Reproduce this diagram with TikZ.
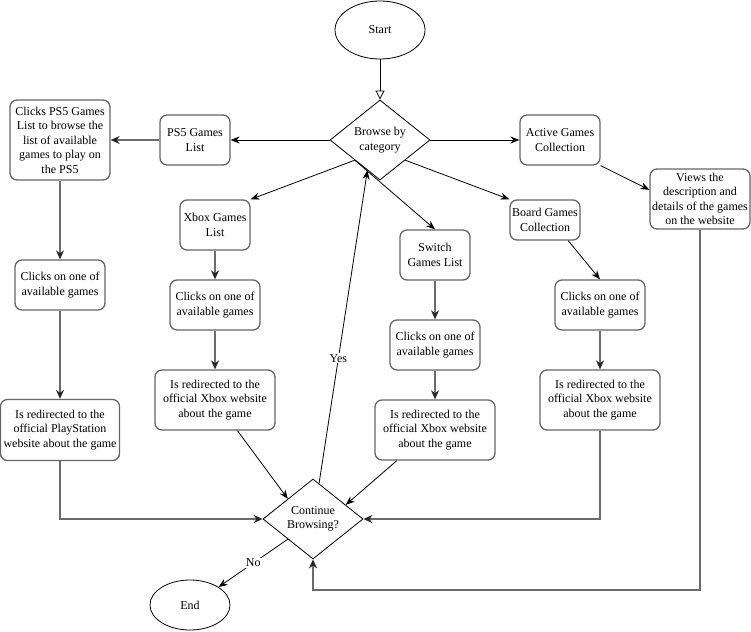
\documentclass[tikz,border=0pt]{standalone}
\usepackage{fontspec}
\setmainfont{Liberation Serif}
\usetikzlibrary{shapes.geometric,arrows.meta,calc}
\begin{document}
\begin{tikzpicture}[x=1pt,y=-1pt,
  font=\fontsize{12}{14.5}\selectfont,
  box/.style 2 args={draw=black!60, line width=1.3pt, rounded corners=7pt, align=center,
    inner sep=1pt, minimum width=#1pt, minimum height=#2pt},
  dia/.style={draw=black, line width=0.8pt, diamond, align=center, inner sep=0pt,
    minimum width=100pt, minimum height=80pt},
  oval/.style 2 args={draw=black, line width=0.8pt, ellipse, inner sep=0pt,
    minimum width=#1pt, minimum height=#2pt},
  blk/.style={draw=black, line width=0.8pt, -{Stealth[length=9pt,width=7pt,inset=3pt]}},
  gry/.style={draw=black!58, line width=1.6pt, -{Stealth[length=9pt,width=8pt,inset=3pt,color=black!85]}},
  lbl/.style={fill=white, inner sep=1pt}
]
\useasboundingbox (0,0) rectangle (751,631);

% nodes
\node[oval={90}{58}] (start) at (380,30) {Start};
\node[dia] (browse) at (380,140) {Browse by\\category};
\node[box={70}{50}] (ps5) at (195,140) {PS5 Games\\List};
\node[box={100}{80}] (ps5b) at (60,140) {Clicks PS5 Games\\List to browse the\\list of available\\games to play on\\the PS5};
\node[box={80}{50}] (active) at (560,140) {Active Games\\Collection};
\node[box={100}{60}] (views) at (700,199) {Views the\\description and\\details of the games\\on the website};
\node[box={70}{50}] (xbox) at (215,225) {Xbox Games\\List};
\node[box={70}{50}] (switch) at (435,255) {Switch\\Games List};
\node[box={70}{40}] (board) at (545,220) {Board Games\\Collection};

\node[box={90}{50}] (pc) at (60,285) {Clicks on one of\\available games};
\node[box={90}{50}] (xc) at (215,305) {Clicks on one of\\available games};
\node[box={90}{50}] (sc) at (435,345) {Clicks on one of\\available games};
\node[box={90}{50}] (bc) at (600,305) {Clicks on one of\\available games};

\node[box={119}{61}] (pr) at (60,430) {Is redirected to the\\official PlayStation\\website about the game};
\node[box={120}{60}] (xr) at (215,400) {Is redirected to the\\official Xbox website\\about the game};
\node[box={120}{60}] (sr) at (435,430) {Is redirected to the\\official Xbox website\\about the game};
\node[box={120}{60}] (br) at (600,400) {Is redirected to the\\official Xbox website\\about the game};

\node[dia] (cont) at (313,519) {Continue\\Browsing?};
\node[oval={80}{50}] (endn) at (190,605) {End};

\coordinate (loop) at (700,590);

% connectors
\draw[line width=0.8pt, -{Triangle[open,length=9pt,width=9pt]}] (start) -- (browse);
\draw[blk] (browse.west) -- (ps5.east);
\draw[gry] (ps5.west) -- (ps5b.east);
\draw[blk] (browse.east) -- (active.west);
\draw[blk] (active.south east) -- ($(views.north west)!0.7!(views.west)$);
\draw[blk] (browse.south west) -- (xbox.north east);
\draw[blk] (browse.south west) -- (switch.north);
\draw[blk] (browse.south east) -- (board.north west);

\draw[gry] (ps5b.south) -- (pc.north);
\draw[gry] (pc.south) -- (pr.north);
\draw[gry] (xbox.south) -- (xc.north);
\draw[gry] (xc.south) -- (xr.north);
\draw[gry] (switch.south) -- (sc.north);
\draw[gry] (sc.south) -- (sr.north);
\draw[blk] ($(board.south)!0.65!(board.south east)$) -- (bc.north);
\draw[gry] (bc.south) -- (br.north);

\draw[gry] (pr.south) |- (cont.west);
\draw[gry] (br.south) |- (cont.east);
\draw[gry] (views.south) -- (loop) -| (cont.south);
\draw[blk] ($(xr.south)!0.37!(xr.south east)$) -- ($(cont.north)!0.5!(cont.west)$);
\draw[blk] ($(sr.south west)!0.37!(sr.south)$) -- ($(cont.north)!0.65!(cont.east)$);

\draw[blk] ($(cont.north)!0.12!(cont.east)$) -- node[lbl, pos=0.4] (yes) {Yes} ($(browse.south)!0.25!(browse.west)$);
\draw[blk] (cont.south west) -- node[lbl, pos=0.5] (no) {No} (endn.north east);
\end{tikzpicture}
\end{document}
